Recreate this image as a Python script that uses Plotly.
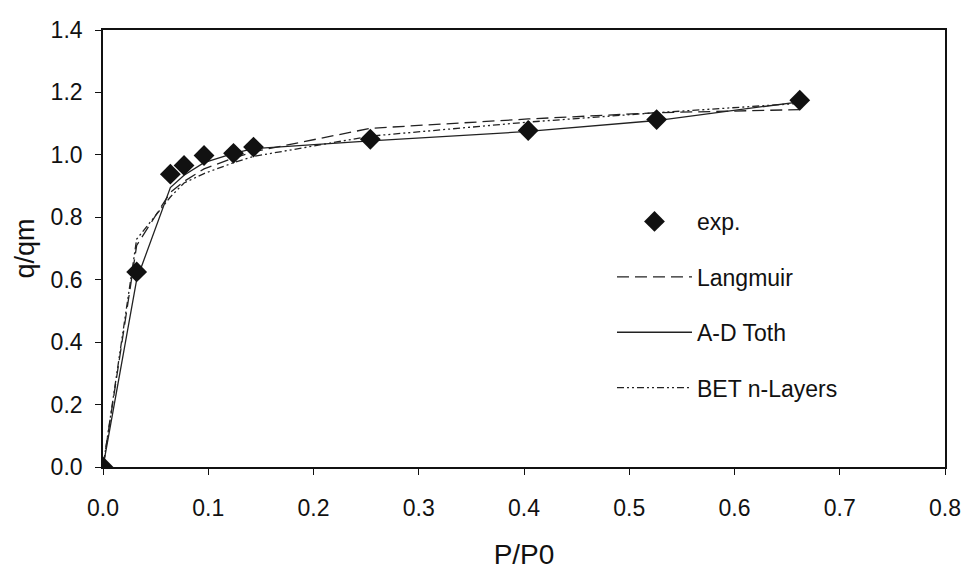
import plotly.graph_objects as go

# P/P0 values
x = [0.0, 0.032, 0.064, 0.077, 0.096, 0.124, 0.143, 0.254, 0.404, 0.526, 0.662]
# experimental q/qm
exp_q = [0.0, 0.625, 0.938, 0.966, 0.998, 1.005, 1.025, 1.050, 1.078, 1.113, 1.175]
# model curves
langmuir = [0.0, 0.71, 0.88, 0.915, 0.955, 0.99, 1.01, 1.085, 1.115, 1.135, 1.145]
ad_toth = [0.0, 0.60, 0.895, 0.935, 0.975, 1.005, 1.02, 1.045, 1.075, 1.11, 1.17]
bet_n = [0.0, 0.73, 0.865, 0.91, 0.94, 0.975, 0.995, 1.06, 1.105, 1.135, 1.165]

x_ticks = [0.0, 0.1, 0.2, 0.3, 0.4, 0.5, 0.6, 0.7, 0.8]
y_ticks = [0.0, 0.2, 0.4, 0.6, 0.8, 1.0, 1.2, 1.4]

FONT = "Liberation Sans, Arial, sans-serif"
fig = go.Figure()

fig.add_trace(go.Scatter(x=x, y=langmuir, mode="lines", name="Langmuir",
                         line=dict(color="#222", width=1.3, dash="12px,6px"),
                         legendgroup="b", legendrank=2))
fig.add_trace(go.Scatter(x=x, y=ad_toth, mode="lines", name="A-D Toth",
                         line=dict(color="#222", width=1.3),
                         legendgroup="c", legendrank=3))
fig.add_trace(go.Scatter(x=x, y=bet_n, mode="lines", name="BET n-Layers",
                         line=dict(color="#222", width=1.3, dash="7px,3px,2px,3px,2px,3px"),
                         legendgroup="d", legendrank=4))
fig.add_trace(go.Scatter(x=x, y=exp_q, mode="markers", name="exp.",
                         marker=dict(symbol="diamond", size=16, color="#111"),
                         legendgroup="a", legendrank=1))

axis_common = dict(showline=True, linecolor="#111", linewidth=1.6, mirror=True,
                   ticks="outside", ticklen=6, tickwidth=1.2, tickcolor="#111",
                   showgrid=False, zeroline=False, automargin=False,
                   tickfont=dict(family=FONT, size=23, color="#111"))

fig.update_layout(
    width=964, height=570,
    margin=dict(l=103, r=19, t=30, b=103),
    paper_bgcolor="white", plot_bgcolor="white",
    font=dict(family=FONT, color="#111"),
    xaxis=dict(range=[0, 0.8], tickvals=x_ticks, tickformat=".1f",
               ticklabelstandoff=14,
               title=dict(text="P/P0", font=dict(family=FONT, size=28), standoff=29),
               **axis_common),
    yaxis=dict(range=[0, 1.4], tickvals=y_ticks, tickformat=".1f",
               ticklabelstandoff=8,
               title=dict(text="q/qm", font=dict(family=FONT, size=27), standoff=8),
               **axis_common),
    legend=dict(x=0.6045, y=0.611, xanchor="left", yanchor="top",
                bgcolor="rgba(0,0,0,0)", borderwidth=0,
                font=dict(family=FONT, size=23, color="#111"),
                tracegroupgap=22.5, itemwidth=75),
    showlegend=True,
)

fig.write_html("out.html")
